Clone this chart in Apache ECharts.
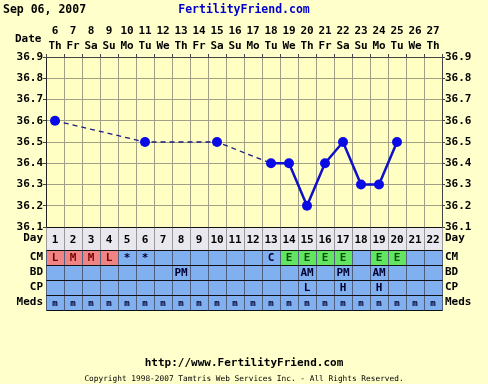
<!DOCTYPE html>
<html>
<head>
<meta charset="utf-8">
<script src="https://cdn.jsdelivr.net/npm/echarts@6/dist/echarts.min.js"></script>
<style>
html,body{margin:0;padding:0;background:#FFFFCC;}
#chart{width:488px;height:384px;}
</style>
</head>
<body>
<div id="chart"></div>
<script>
// ---- data ----
const cycleDays = ['1','2','3','4','5','6','7','8','9','10','11','12','13','14','15','16','17','18','19','20','21','22'];
const dates = ['6','7','8','9','10','11','12','13','14','15','16','17','18','19','20','21','22','23','24','25','26','27'];
const weekdays = ['Th','Fr','Sa','Su','Mo','Tu','We','Th','Fr','Sa','Su','Mo','Tu','We','Th','Fr','Sa','Su','Mo','Tu','We','Th'];
const temps = [36.6,null,null,null,null,36.5,null,null,null,36.5,null,null,36.4,36.4,36.2,36.4,36.5,36.3,36.3,36.5,null,null];
const rowNames = ['CM','BD','CP','Meds'];
const cm   = ['L','M','M','L','*','*','','','','','','','C','E','E','E','E','','E','E','',''];
const bd   = ['','','','','','','','PM','','','','','','','AM','','PM','','AM','','',''];
const cp   = ['','','','','','','','','','','','','','','L','','H','','H','','',''];
const meds = ['m','m','m','m','m','m','m','m','m','m','m','m','m','m','m','m','m','m','m','m','m','m'];
const tempMin = 36.1, tempMax = 36.9, tempStep = 0.1;

// ---- styling ----
const MONO = '"DejaVu Sans Mono", monospace';
const L = 46, R = 46;
const GRIDC = '#A0A086';

const tableRows = [cm, bd, cp, meds];
const tableData = [];
tableRows.forEach((row, r) => row.forEach((v, d) => tableData.push([d, r, v])));
const dayData = cycleDays.map((v, d) => [d, 0, v]);

function cellColor(r, v) {
  if (r === 0 && (v === 'L' || v === 'M')) return '#F08484';
  if (r === 0 && v === 'E') return '#62E662';
  return '#80B0F0';
}
function textColor(r, v) {
  if (r === 0 && (v === 'L' || v === 'M')) return '#7A0000';
  if (r === 0 && v === 'E') return '#0A4A0A';
  return '#000030';
}

function px(v) { return Math.round(v) + 0.5; }

function renderTable(params, api) {
  const d = api.value(0), r = api.value(1);
  const v = tableData[params.dataIndex][2];
  const c = api.coord([d, r]);
  const s = api.size([1, 1]);
  const x0 = px(c[0] - s[0] / 2), x1 = px(c[0] + s[0] / 2);
  const y0 = px(c[1] - s[1] / 2), y1 = px(c[1] + s[1] / 2);
  const children = [
    { type: 'rect', z2: 1, shape: { x: x0, y: y0, width: x1 - x0, height: y1 - y0 },
      style: { fill: cellColor(r, v), stroke: '#50607E', lineWidth: 1 } },
    { type: 'line', z2: 5, shape: { x1: x0, y1: y0, x2: x1, y2: y0 }, style: { stroke: '#111', lineWidth: 1 } },
    { type: 'line', z2: 5, shape: { x1: x0, y1: y1, x2: x1, y2: y1 }, style: { stroke: '#111', lineWidth: 1 } }
  ];
  if (v) {
    children.push({ type: 'text', z2: 6, style: {
      text: v, x: c[0], y: c[1] + (r === 3 ? 1 : 0.5), align: 'center', verticalAlign: 'middle',
      font: (r === 3 ? 'bold 9px ' : 'bold 11px ') + MONO, fill: textColor(r, v) } });
  }
  return { type: 'group', children };
}

function renderDay(params, api) {
  const d = api.value(0);
  const c = api.coord([d, 0]);
  const s = api.size([1, 1]);
  const x0 = px(c[0] - s[0] / 2), x1 = px(c[0] + s[0] / 2);
  const y0 = px(c[1] - s[1] / 2), y1 = px(c[1] + s[1] / 2);
  return { type: 'group', children: [
    { type: 'rect', z2: 1, shape: { x: x0, y: y0, width: x1 - x0, height: y1 - y0 },
      style: { fill: '#E8E8EE', stroke: '#9A9A9A', lineWidth: 1 } },
    { type: 'line', z2: 5, shape: { x1: x0, y1: y0, x2: x1, y2: y0 }, style: { stroke: '#111', lineWidth: 1 } },
    { type: 'text', z2: 6, style: { text: dayData[params.dataIndex][2], x: c[0], y: c[1] + 1.5,
      align: 'center', verticalAlign: 'middle', font: 'bold 11px ' + MONO, fill: '#000' } }
  ] };
}

const chart = echarts.init(document.getElementById('chart'), null, { renderer: 'canvas' });
const axisFont = { fontFamily: MONO, fontSize: 11, fontWeight: 'bold', color: '#000' };

const option = {
  backgroundColor: '#FFFFCC',
  animation: false,
  title: [
    { text: 'Sep 06, 2007', left: 3, top: 4, padding: 0,
      textStyle: { fontFamily: MONO, fontSize: 11.5, fontWeight: 'bold', color: '#000' } },
    { text: 'FertilityFriend.com', left: 'center', top: 4, padding: 0,
      textStyle: { fontFamily: MONO, fontSize: 11.5, fontWeight: 'bold', color: '#0000CC' } },
    { text: 'Date', left: 15, top: 34, padding: 0,
      textStyle: { fontFamily: MONO, fontSize: 11, fontWeight: 'bold', color: '#000' } },
    { text: 'http://www.FertilityFriend.com', left: 'center', top: 358, padding: 0,
      textStyle: { fontFamily: MONO, fontSize: 11, fontWeight: 'bold', color: '#000' } },
    { text: 'Copyright 1998-2007 Tamtris Web Services Inc. - All Rights Reserved.', left: 'center', top: 375, padding: 0,
      textStyle: { fontFamily: MONO, fontSize: 7.8, fontWeight: 'normal', color: '#000' } }
  ],
  grid: [
    { left: L, right: R, top: 57, height: 170, show: true, backgroundColor: '#FFFFC4', borderWidth: 0 },
    { left: L, right: R, top: 227, height: 23 },
    { left: L, right: R, top: 250, height: 60 }
  ],
  xAxis: [
    { gridIndex: 0, type: 'category', data: cycleDays, position: 'bottom',
      axisLine: { show: true, lineStyle: { color: '#111' } }, axisTick: { show: false }, axisLabel: { show: false },
      splitLine: { show: true, interval: 0, lineStyle: { color: GRIDC, width: 1 } } },
    { gridIndex: 0, type: 'category', data: dates.map((d, i) => d + '\n' + weekdays[i]), position: 'top',
      axisLine: { show: true, lineStyle: { color: '#444' } },
      axisTick: { show: true, length: 3, interval: 0, lineStyle: { color: '#444' } },
      axisLabel: { interval: 0, margin: 3, lineHeight: 15, ...axisFont } },
    { gridIndex: 1, type: 'category', data: cycleDays, show: false },
    { gridIndex: 2, type: 'category', data: cycleDays, show: false }
  ],
  yAxis: [
    { gridIndex: 0, type: 'value', min: tempMin, max: tempMax, interval: tempStep, position: 'left',
      axisLine: { show: true, lineStyle: { color: '#222' } },
      axisTick: { show: true, length: 3, lineStyle: { color: '#444' } },
      axisLabel: { margin: 3, formatter: v => v.toFixed(1), ...axisFont },
      splitLine: { show: true, lineStyle: { color: GRIDC, width: 1 } } },
    { gridIndex: 0, type: 'value', min: tempMin, max: tempMax, interval: tempStep, position: 'right',
      axisLine: { show: true, lineStyle: { color: '#444' } },
      axisTick: { show: true, length: 3, lineStyle: { color: '#444' } },
      axisLabel: { margin: 3, formatter: v => v.toFixed(1), ...axisFont },
      splitLine: { show: false } },
    { gridIndex: 1, type: 'category', data: ['Day'], position: 'left',
      axisLine: { show: false }, axisTick: { show: false }, axisLabel: { margin: 3, ...axisFont } },
    { gridIndex: 1, type: 'category', data: ['Day'], position: 'right',
      axisLine: { show: false }, axisTick: { show: false }, axisLabel: { margin: 3, ...axisFont } },
    { gridIndex: 2, type: 'category', data: rowNames, inverse: true, position: 'left',
      axisLine: { show: false }, axisTick: { show: false }, axisLabel: { margin: 3, ...axisFont } },
    { gridIndex: 2, type: 'category', data: rowNames, inverse: true, position: 'right',
      axisLine: { show: false }, axisTick: { show: false }, axisLabel: { margin: 3, ...axisFont } }
  ],
  series: [
    { type: 'line', xAxisIndex: 0, yAxisIndex: 0, data: temps, connectNulls: true, showSymbol: false,
      symbol: 'none', lineStyle: { color: '#1A1A80', width: 1.3, type: [5, 4] }, z: 2 },
    { type: 'line', xAxisIndex: 0, yAxisIndex: 0, data: temps, connectNulls: false,
      symbol: 'circle', symbolSize: 10, itemStyle: { color: '#0A0AE6' },
      lineStyle: { color: '#1010C8', width: 2.5 }, z: 3 },
    { type: 'custom', xAxisIndex: 2, yAxisIndex: 2, data: dayData.map(d => [d[0], d[1]]), renderItem: renderDay, z: 4 },
    { type: 'custom', xAxisIndex: 3, yAxisIndex: 4, data: tableData.map(d => [d[0], d[1]]), renderItem: renderTable, z: 4 }
  ]
};
chart.setOption(option);
</script>
</body>
</html>
